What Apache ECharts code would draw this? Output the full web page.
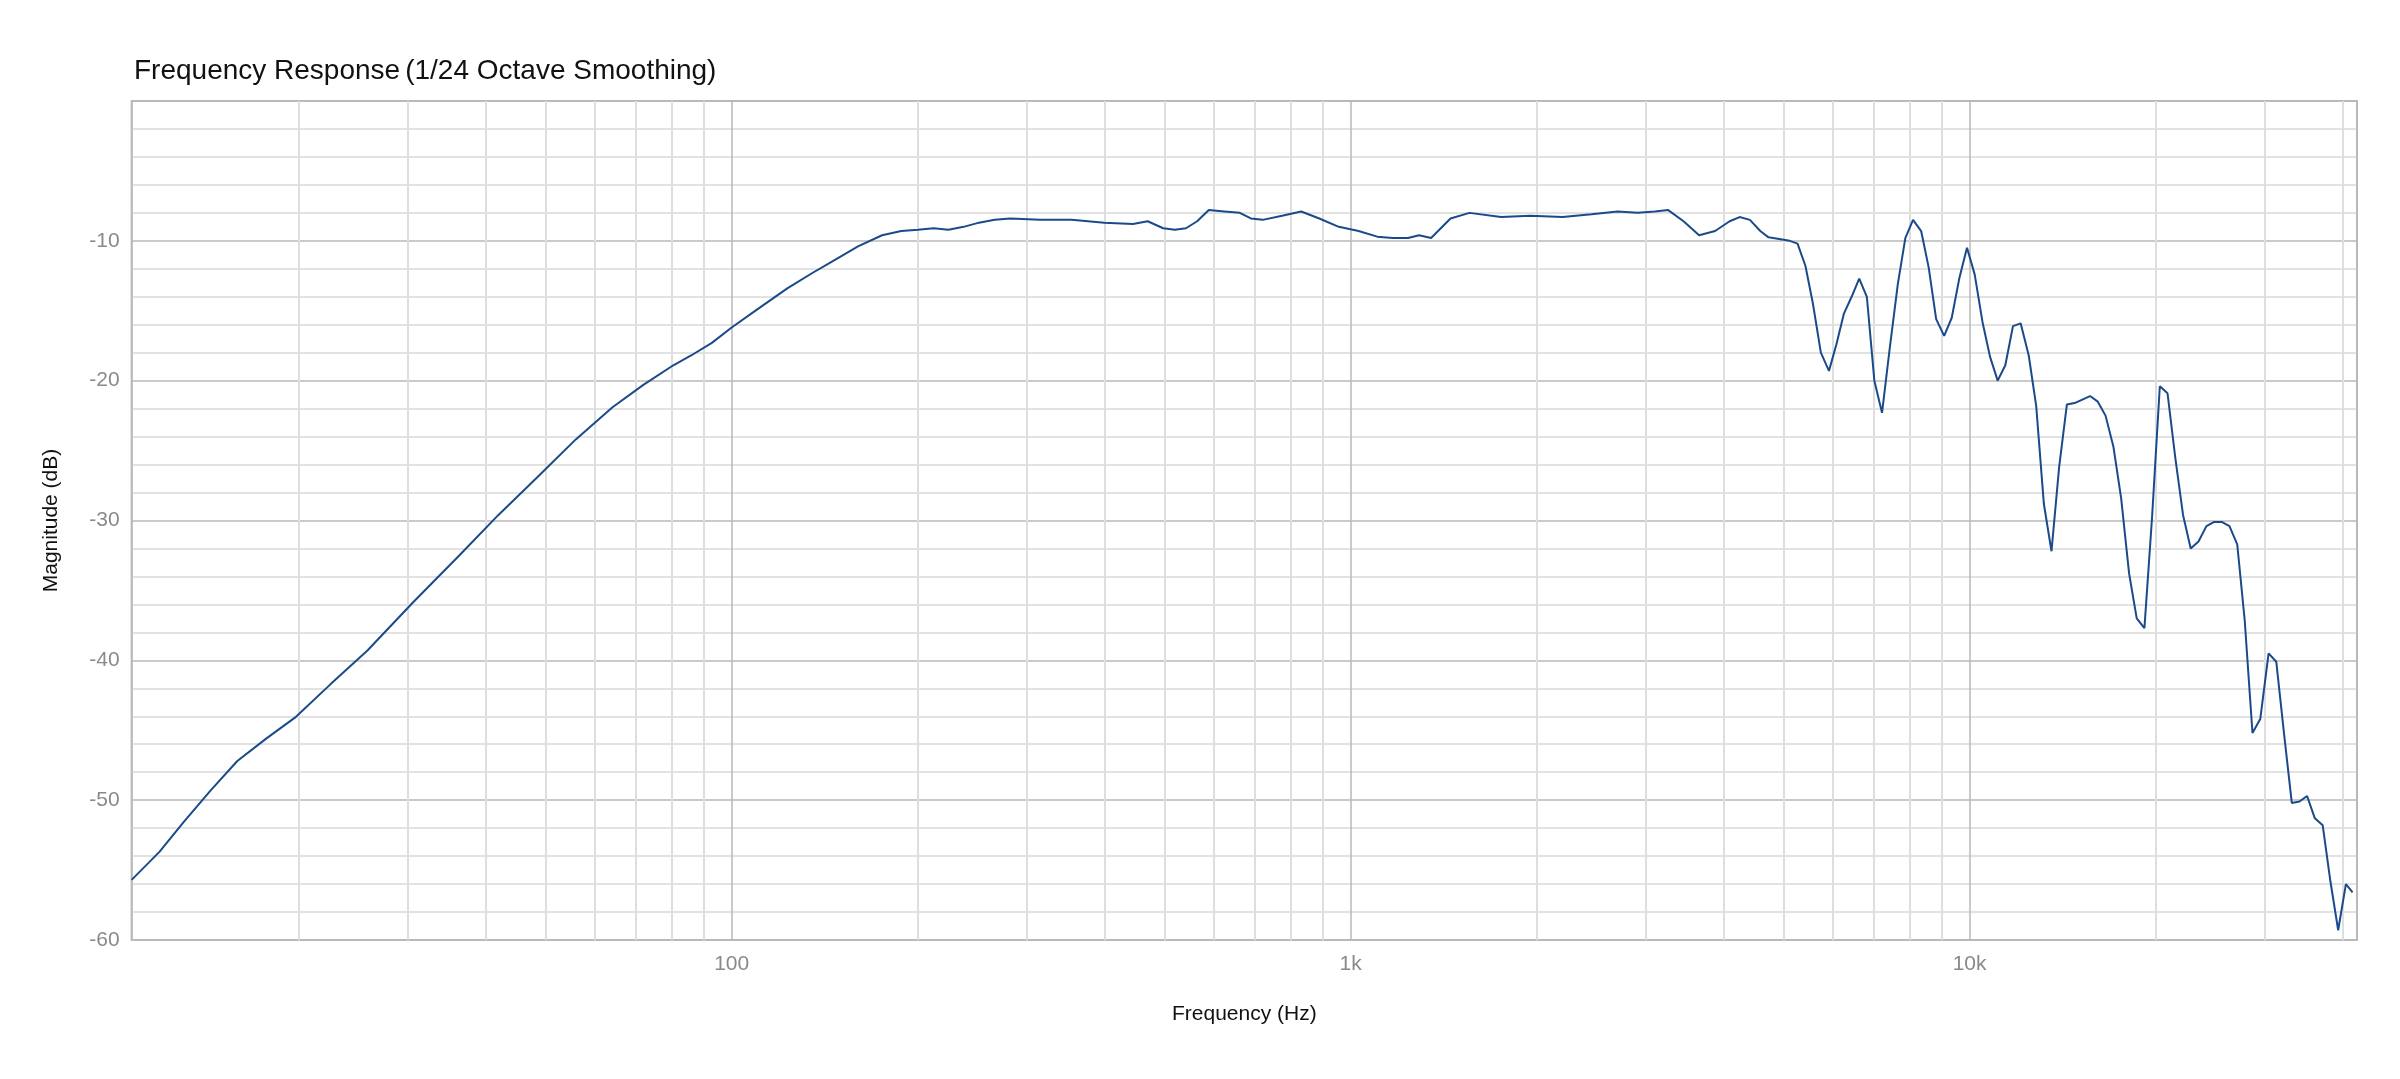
<!DOCTYPE html>
<html><head><meta charset="utf-8">
<script src="https://cdn.jsdelivr.net/npm/echarts@6/dist/echarts.min.js"></script>
<style>html,body{margin:0;padding:0;background:#fff}#c{width:2400px;height:1079px}</style>
</head><body><div id="c"></div>
<script>
const freqs = [10.73,11.9,13.0,14.4,15.9,17.7,19.7,22.5,25.8,30.5,36.3,42,48.3,56,64.2,72,80.5,86,92.9,100,110,123,135,145,160,175,188,200,212,224,237,251,266,282,315,354,400,445,470,498,520,542,565,590,625,662,690,721,775,832,890,957,1030,1104,1170,1238,1290,1349,1450,1556,1750,1950,2200,2450,2700,2909,3100,3259,3450,3656,3880,4096,4250,4416,4590,4733,5121,5272,5430,5583,5750,5926,6093,6265,6447,6632,6823,7016,7219,7424,7656,7873,8102,8350,8587,8830,9096,9357,9622,9903,10190,10490,10790,11100,11420,11750,12090,12460,12810,13180,13560,13950,14360,14780,15650,16110,16580,17070,17570,18100,18620,19160,19710,20290,20880,21490,22120,22760,23430,24130,24840,25540,26290,27060,27820,28640,29480,30410,31290,32200,33150,34110,35090,36120,37190,38270,39390,40540,41560];
const magnitudes = [-55.7,-53.7,-51.6,-49.3,-47.2,-45.6,-44.1,-41.7,-39.3,-35.9,-32.5,-29.6,-27.0,-24.2,-21.9,-20.3,-18.9,-18.2,-17.3,-16.2,-14.9,-13.4,-12.3,-11.5,-10.4,-9.6,-9.3,-9.2,-9.1,-9.2,-9.0,-8.7,-8.5,-8.4,-8.5,-8.5,-8.7,-8.8,-8.6,-9.1,-9.2,-9.1,-8.6,-7.8,-7.9,-8.0,-8.4,-8.5,-8.2,-7.9,-8.4,-9.0,-9.3,-9.7,-9.8,-9.8,-9.6,-9.8,-8.4,-8.0,-8.3,-8.2,-8.3,-8.1,-7.9,-8.0,-7.9,-7.8,-8.6,-9.6,-9.3,-8.6,-8.3,-8.5,-9.3,-9.75,-10.0,-10.2,-11.8,-14.5,-18.0,-19.3,-17.4,-15.2,-14.0,-12.7,-14.0,-20.0,-22.3,-17.8,-13.1,-9.8,-8.5,-9.3,-11.9,-15.6,-16.8,-15.5,-12.7,-10.5,-12.4,-15.8,-18.3,-20.0,-18.9,-16.1,-15.9,-18.2,-21.8,-28.8,-32.2,-26.2,-21.7,-21.6,-21.1,-21.5,-22.5,-24.7,-28.4,-33.8,-37.0,-37.7,-29.8,-20.4,-20.9,-25.5,-29.6,-32.0,-31.5,-30.4,-30.1,-30.1,-30.4,-31.7,-37.1,-45.2,-44.2,-39.5,-40.1,-45.2,-50.2,-50.1,-49.7,-51.3,-51.8,-55.8,-59.3,-56.0,-56.6];
const minorFreqs = [20,30,40,50,60,70,80,90,200,300,400,500,600,700,800,900,2000,3000,4000,5000,6000,7000,8000,9000,20000,30000,40000];
const xTickLabels = {100:'100',1000:'1k',10000:'10k'};

const font = '"Liberation Sans", Arial, sans-serif';
const chart = echarts.init(document.getElementById('c'));
chart.setOption({
  animation:false,
  title:{
    left:129, top:52,
    text:'{b|Frequency Response} {n|(1/24 Octave Smoothing)}',
    textStyle:{rich:{
      b:{fontSize:28,fontWeight:500,color:'#111',fontFamily:font},
      n:{fontSize:28,fontWeight:'normal',color:'#111',fontFamily:font}
    }}
  },
  grid:{left:131.6,right:43,top:101,bottom:139,show:true,borderColor:'#bcbcbc',borderWidth:2,backgroundColor:'transparent'},
  xAxis:{
    type:'log', logBase:10, min:10.73, max:42250,
    name:'Frequency (Hz)', nameLocation:'middle', nameGap:64,
    nameTextStyle:{fontSize:21,color:'#111',fontFamily:font},
    axisLine:{show:false}, axisTick:{show:false},
    axisLabel:{showMinLabel:false,showMaxLabel:false,fontSize:21,color:'#8a8a8a',fontFamily:font,margin:14,
      formatter:v=>xTickLabels[Math.round(v)]||''},
    splitLine:{show:true,lineStyle:{color:'#b8b8b8',width:1.5}}
  },
  yAxis:{
    type:'value', min:-60, max:0, interval:10,
    name:'Magnitude (dB)', nameLocation:'middle', nameGap:70,
    nameTextStyle:{fontSize:21,color:'#111',fontFamily:font},
    axisLine:{show:false}, axisTick:{show:false},
    axisLabel:{showMaxLabel:false,fontSize:21,color:'#8a8a8a',fontFamily:font,margin:12},
    splitLine:{show:true,lineStyle:{color:'#b8b8b8',width:1.5}},
    minorTick:{show:false,splitNumber:5},
    minorSplitLine:{show:true,lineStyle:{color:'#e2e2e2',width:2}}
  },
  series:[{
    type:'line', data:freqs.map((f,i)=>[f,magnitudes[i]]),
    showSymbol:false, z:5,
    lineStyle:{color:'#1a4a8a',width:2},
    markLine:{silent:true,symbol:['none','none'],label:{show:false},z:1,
      lineStyle:{color:'#dedede',width:2,type:'solid'},
      data:minorFreqs.map(f=>({xAxis:f}))}
  }]
});
</script></body></html>
